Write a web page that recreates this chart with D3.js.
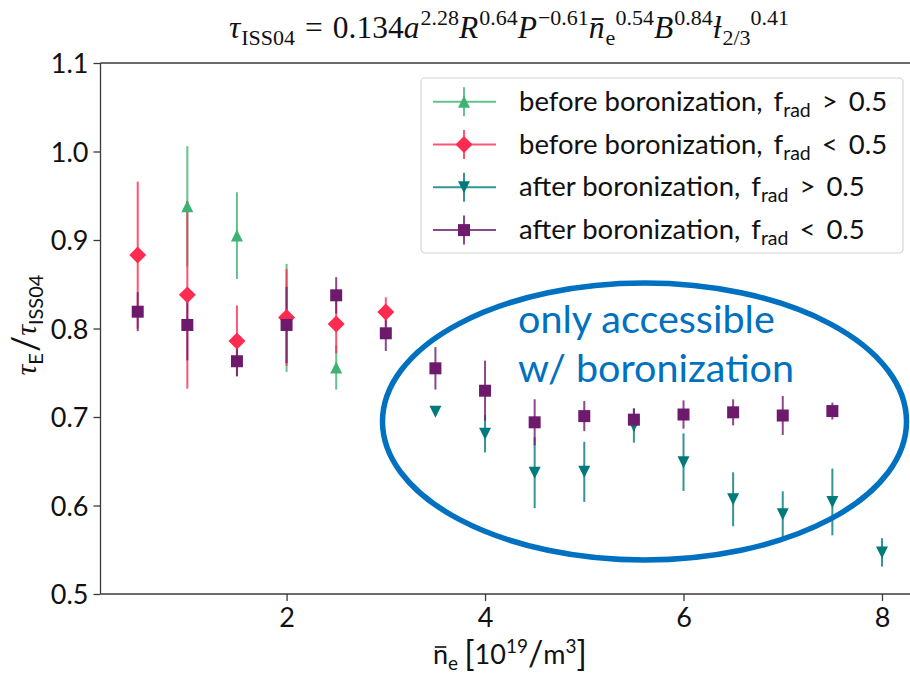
<!DOCTYPE html>
<html><head><meta charset="utf-8">
<script src="https://cdn.jsdelivr.net/npm/d3@7"></script>
<style>body{margin:0;background:#fff} svg{display:block}</style>
</head><body><svg id="c" width="910" height="674"></svg>
<script>
// ---------------- data ----------------
const xTicks = [2, 4, 6, 8];
const yTicks = [0.5, 0.6, 0.7, 0.8, 0.9, 1.0, 1.1];
const seriesNames = ["before boronization", "before boronization", "after boronization", "after boronization"];
const fradOps = [">", "<", ">", "<"];
const fradThreshold = "0.5";

const greenX = [1, 1.5, 2, 2.5];
const greenY = [0.938, 0.905, 0.812, 0.756];
const greenErr = [0.068, 0.049, 0.061, 0.025];

const redX = [0.5, 1, 1.5, 2, 2.5, 3];
const redY = [0.883, 0.838, 0.786, 0.8125, 0.805, 0.8186];
const redErr = [0.083, 0.106, 0.040, 0.0545, 0.033, 0.0166];

const tealX = [3.5, 4, 4.5, 5, 5.5, 6, 6.5, 7, 7.5, 8];
const tealY = [0.706, 0.681, 0.637, 0.638, 0.690, 0.649, 0.607, 0.590, 0.604, 0.547];
const tealErr = [0.002, 0.021, 0.040, 0.034, 0.019, 0.0325, 0.0305, 0.026, 0.0377, 0.016];

const purpleX = [0.5, 1, 1.5, 2, 2.5, 3, 3.5, 4, 4.5, 5, 5.5, 6, 6.5, 7, 7.5];
const purpleY = [0.819, 0.804, 0.763, 0.804, 0.8375, 0.7946, 0.755, 0.7297, 0.694, 0.701, 0.697, 0.7028, 0.7053, 0.7017, 0.7067];
const purpleErr = [0.022, 0.040, 0.017, 0.043, 0.0205, 0.020, 0.024, 0.034, 0.026, 0.017, 0.013, 0.016, 0.0147, 0.022, 0.0096];

const annotationLines = ["only accessible", "w/ boronization"];

// ---------------- setup ----------------
const svg = d3.select("#c");
const m = {l: 100.5, r: 919.2, t: 63, b: 594};
const x = d3.scaleLinear().domain([0.125, 8.375]).range([m.l, m.r]);
const y = d3.scaleLinear().domain([0.5, 1.1]).range([m.b, m.t]);
const axisColor = "#3a3a3a";
const sans = "Lato, 'Open Sans', sans-serif";
const serif = "'Liberation Serif', 'DejaVu Serif', serif";

const colors = ["#3cb371", "#fc2c50", "#007a7a", "#6d1a6d"];
const shapes = ["tri-up", "diamond", "tri-down", "square"];
const series = [
  {xs: greenX, ys: greenY, es: greenErr},
  {xs: redX, ys: redY, es: redErr},
  {xs: tealX, ys: tealY, es: tealErr},
  {xs: purpleX, ys: purpleY, es: purpleErr}
].map((s, i) => ({...s, color: colors[i], shape: shapes[i], name: seriesNames[i], op: fradOps[i],
  pts: s.xs.map((v, j) => ({x: v, y: s.ys[j], e: s.es[j]}))}));

const ms = 12;
function markerPath(shape) {
  const h = ms / 2;
  if (shape === "square") return `M${-h},${-h}H${h}V${h}H${-h}Z`;
  if (shape === "diamond") { const d = h * Math.SQRT2; return `M0,${-d}L${d},0L0,${d}L${-d},0Z`; }
  if (shape === "tri-up") return `M0,${-h}L${h},${h}L${-h},${h}Z`;
  return `M0,${h}L${h},${-h}L${-h},${-h}Z`;
}

// ---------------- axes ----------------
const gx = svg.append("g").attr("transform", `translate(0,${m.b})`)
  .call(d3.axisBottom(x).tickValues(xTicks).tickFormat(d3.format("d")).tickSize(7).tickSizeOuter(0).tickPadding(7));
const gy = svg.append("g").attr("transform", `translate(${m.l},0)`)
  .call(d3.axisLeft(y).tickValues(yTicks).tickFormat(d3.format(".1f")).tickSize(7).tickSizeOuter(0).tickPadding(5));
[gx, gy].forEach(g => {
  g.select(".domain").remove();
  g.selectAll(".tick line").attr("stroke", axisColor).attr("stroke-width", 1.3);
  g.selectAll(".tick text").attr("fill", "#111").attr("font-family", sans).attr("font-size", 27);
});
gy.selectAll(".tick text").attr("dy", "0.36em");

// spines
svg.append("line").attr("x1", m.l).attr("x2", m.l).attr("y1", m.t).attr("y2", m.b).attr("stroke", axisColor).attr("stroke-width", 1.3);
svg.append("line").attr("x1", m.l).attr("x2", m.r).attr("y1", m.b).attr("y2", m.b).attr("stroke", axisColor).attr("stroke-width", 1.3);
svg.append("line").attr("x1", m.l).attr("x2", m.r).attr("y1", m.t).attr("y2", m.t).attr("stroke", axisColor).attr("stroke-width", 1.3);
svg.append("line").attr("x1", m.r).attr("x2", m.r).attr("y1", m.t).attr("y2", m.b).attr("stroke", axisColor).attr("stroke-width", 1.3);

// ---------------- data marks ----------------
const plot = svg.append("g");
// error bars first (all series), then markers (all series)
series.forEach(s => {
  plot.append("g").selectAll("line").data(s.pts).join("line")
    .attr("x1", d => x(d.x)).attr("x2", d => x(d.x))
    .attr("y1", d => y(d.y - d.e)).attr("y2", d => y(d.y + d.e))
    .attr("stroke", s.color).attr("stroke-opacity", 0.8).attr("stroke-width", 2);
});
series.forEach(s => {
  plot.append("g").selectAll("path").data(s.pts).join("path")
    .attr("d", markerPath(s.shape))
    .attr("transform", d => `translate(${x(d.x)},${y(d.y)})`)
    .attr("fill", s.color);
});

// ---------------- rich text helper ----------------
function rich(g, pieces) {
  let cx = 0, lastStart = 0;
  pieces.forEach(p => {
    const sx = p.stack ? lastStart : cx + (p.dx || 0);
    const el = g.append("text")
      .attr("font-family", p.family).attr("font-size", p.fs)
      .attr("font-style", p.italic ? "italic" : "normal")
      .attr("fill", p.fill || "#111")
      .attr("x", sx).attr("y", p.shift || 0).text(p.t);
    const w = el.node().getComputedTextLength();
    if (p.bar) {
      g.append("line").attr("x1", sx + w * 0.12 + (p.barDx || 0)).attr("x2", sx + w * 0.88 + (p.barDx || 0))
        .attr("y1", -p.bar).attr("y2", -p.bar).attr("stroke", p.fill || "#111").attr("stroke-width", p.fs * 0.06);
    }
    if (p.stack) { cx = Math.max(cx, sx + w); }
    else { lastStart = sx + w; cx = sx + w; }
  });
  return cx;
}

// ---------------- title ----------------
{
  const S = 31.5, s = 22, up = -13, dn = 7;
  const g = svg.append("g");
  const w = rich(g, [
    {t: "τ", fs: S, italic: true, family: serif},
    {t: "ISS04", fs: s, family: serif, shift: dn, dx: 1},
    {t: "=", fs: S, family: serif, dx: 10},
    {t: "0.134", fs: S, family: serif, dx: 10},
    {t: "a", fs: S, family: serif, italic: true},
    {t: "2.28", fs: s, family: serif, shift: up, dx: 1},
    {t: "R", fs: S, family: serif, italic: true},
    {t: "0.64", fs: s, family: serif, shift: up, dx: 1},
    {t: "P", fs: S, family: serif, italic: true},
    {t: "−0.61", fs: s, family: serif, shift: up, dx: 1},
    {t: "n", fs: S, family: serif, italic: true, bar: 19, barDx: 1},
    {t: "e", fs: s, family: serif, shift: dn, dx: 1},
    {t: "0.54", fs: s, family: serif, shift: up, stack: true},
    {t: "B", fs: S, family: serif, italic: true},
    {t: "0.84", fs: s, family: serif, shift: up, dx: 1},
    {t: "ƚ", fs: S, family: serif, italic: true},
    {t: "2/3", fs: s, family: serif, shift: dn, dx: 1},
    {t: "0.41", fs: s, family: serif, shift: up, stack: true}
  ]);
  g.attr("transform", `translate(${509 - w / 2},38)`);
}

// ---------------- y label ----------------
{
  const g = svg.append("g");
  const w = rich(g, [
    {t: "τ", fs: 30, italic: true, family: serif},
    {t: "E", fs: 20, family: sans, shift: 7},
    {t: "/", fs: 36, family: sans, shift: 2, dx: 1},
    {t: "τ", fs: 30, italic: true, family: serif},
    {t: "ISS04", fs: 20, family: sans, shift: 7}
  ]);
  g.attr("transform", `translate(36,${325 + w / 2}) rotate(-90)`);
}

// ---------------- x label ----------------
{
  const g = svg.append("g");
  const w = rich(g, [
    {t: "n", fs: 27, family: sans, bar: 17},
    {t: "e", fs: 19, family: sans, shift: 6},
    {t: "[", fs: 34, family: sans, dx: 6, shift: 2},
    {t: "10", fs: 27, family: sans},
    {t: "19", fs: 19, family: sans, shift: -11},
    {t: "/", fs: 34, family: sans, shift: 2},
    {t: "m", fs: 27, family: sans},
    {t: "3", fs: 19, family: sans, shift: -11},
    {t: "]", fs: 34, family: sans, shift: 2}
  ]);
  g.attr("transform", `translate(${510 - w / 2},664)`);
}

// ---------------- legend ----------------
{
  const lg = svg.append("g");
  lg.append("rect").attr("x", 421).attr("y", 78).attr("width", 482).attr("height", 175)
    .attr("rx", 4).attr("fill", "#fff").attr("fill-opacity", 0.85).attr("stroke", "#d4d4d4").attr("stroke-width", 1.2);
  const F = 27.5;
  series.forEach((s, i) => {
    const ry = 101.7 + i * 42.8;
    const row = lg.append("g");
    row.append("line").attr("x1", 433).attr("x2", 496).attr("y1", ry).attr("y2", ry)
      .attr("stroke", s.color).attr("stroke-opacity", 0.8).attr("stroke-width", 2);
    row.append("line").attr("x1", 464).attr("x2", 464).attr("y1", ry - 14.5).attr("y2", ry + 14.5)
      .attr("stroke", s.color).attr("stroke-opacity", 0.8).attr("stroke-width", 2);
    row.append("path").attr("d", markerPath(s.shape)).attr("transform", `translate(464,${ry})`).attr("fill", s.color);
    const tg = row.append("g").attr("transform", `translate(519,${ry + 9})`);
    rich(tg, [
      {t: s.name + ",", fs: F, family: sans},
      {t: "f", fs: F, family: sans, dx: 11},
      {t: "rad", fs: 19.5, family: sans, shift: 6},
      {t: s.op, fs: F, family: sans, dx: 11},
      {t: fradThreshold, fs: F, family: sans, dx: 11}
    ]);
  });
}

// ---------------- annotation ----------------
{
  const blue = "#0070c0";
  svg.append("ellipse").attr("cx", 644.5).attr("cy", 421.5).attr("rx", 262).attr("ry", 138.5)
    .attr("fill", "none").attr("stroke", blue).attr("stroke-width", 5.5);
  annotationLines.forEach((t, i) => {
    svg.append("text").attr("x", 518).attr("y", 333 + i * 48.5)
      .attr("font-family", sans).attr("font-size", 39.5).attr("fill", blue).text(t);
  });
}
</script></body></html>
